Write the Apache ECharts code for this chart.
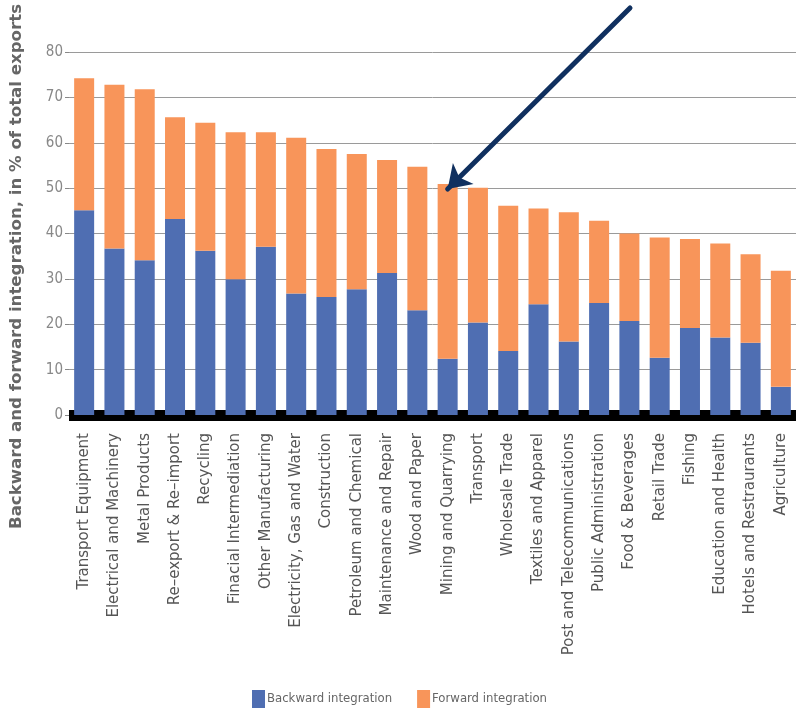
<!DOCTYPE html>
<html>
<head>
<meta charset="utf-8">
<script src="https://cdn.jsdelivr.net/npm/echarts@6/dist/echarts.min.js"></script>
<style>
  html, body { margin: 0; padding: 0; background: #ffffff; }
  #chart { width: 799px; height: 717px; }
</style>
</head>
<body>
<div id="chart"></div>
<script>
// Sectors, ordered by total integration
const sectors = [
  'Transport Equipment', 'Electrical and Machinery', 'Metal Products', 'Re\u2013export & Re\u2013import',
  'Recycling', 'Finacial Intermediation', 'Other Manufacturing', 'Electricity, Gas and Water',
  'Construction', 'Petroleum and Chemical', 'Maintenance and Repair', 'Wood and Paper',
  'Mining and Quarrying', 'Transport', 'Wholesale Trade', 'Textiles and Apparel',
  'Post and Telecommunications', 'Public Administration', 'Food & Beverages', 'Retail Trade',
  'Fishing', 'Education and Health', 'Hotels and Restraurants', 'Agriculture'
];

// Backward integration, % of total exports
const backward = [
  45.1, 36.7, 34.1, 43.2, 36.2, 29.9, 37.1, 26.8, 26.0, 27.7, 31.3, 23.1,
  12.4, 20.4, 14.1, 24.4, 16.2, 24.7, 20.7, 12.6, 19.2, 17.1, 15.9, 6.2
];

// Forward integration, % of total exports
const forward = [
  29.1, 36.1, 37.7, 22.4, 28.2, 32.4, 25.2, 34.3, 32.6, 29.8, 24.9, 31.6,
  38.5, 29.7, 32.0, 21.1, 28.5, 18.1, 19.3, 26.5, 19.6, 20.7, 19.5, 25.6
];

// Value axis ticks
const yTicks = { min: 0, max: 80, interval: 10 };

const narrowFont = '"DejaVu Sans Condensed"';
const blue = '#4f6eb2';
const orange = '#f8955a';

const chart = echarts.init(document.getElementById('chart'), null, { renderer: 'canvas' });

chart.setOption({
  animation: false,
  backgroundColor: '#ffffff',
  grid: { left: 66, right: 3, top: 52, bottom: 302 },
  legend: {
    left: 247,
    top: 685,
    itemWidth: 13,
    itemHeight: 18,
    itemGap: 25,
    icon: 'rect',
    textStyle: { fontFamily: narrowFont, fontSize: 13, color: '#666666', padding: [0, 0, 0, -3] },
    data: ['Backward integration', 'Forward integration']
  },
  xAxis: {
    type: 'category',
    data: sectors,
    axisLine: { show: true, lineStyle: { color: '#000000', width: 11, cap: 'butt' } },
    axisTick: { show: false },
    axisLabel: {
      interval: 0,
      rotate: 90,
      margin: 18,
      fontFamily: '"DejaVu Sans", sans-serif',
      fontSize: 15,
      color: '#555555'
    }
  },
  yAxis: {
    type: 'value',
    min: yTicks.min,
    max: yTicks.max,
    interval: yTicks.interval,
    name: 'Backward and forward integration, in % of total exports',
    nameLocation: 'middle',
    nameGap: 44,
    nameTextStyle: {
      fontFamily: '"DejaVu Sans", sans-serif',
      fontWeight: 'bold',
      fontSize: 16.6,
      color: '#666666',
      padding: [0, 66, 0, 0]
    },
    axisLine: { show: false },
    axisTick: { show: true, length: 4, lineStyle: { color: '#888888' } },
    axisLabel: { margin: 6, fontFamily: narrowFont, fontSize: 15, color: '#888888' },
    splitLine: { lineStyle: { color: '#9a9a9a', width: 1 } }
  },
  series: [
    {
      name: 'Backward integration',
      type: 'bar',
      stack: 'total',
      barWidth: 20,
      itemStyle: { color: blue },
      data: backward
    },
    {
      name: 'Forward integration',
      type: 'bar',
      stack: 'total',
      barWidth: 20,
      itemStyle: { color: orange },
      data: forward,
      markLine: {
        silent: true,
        animation: false,
        symbol: ['none', 'arrow'],
        symbolSize: [22, 22],
        label: { show: false },
        lineStyle: { color: '#10305f', width: 5, type: 'solid', cap: 'round' },
        data: [
          [
            { x: 630, y: 8 },
            { coord: ['Mining and Quarrying', 49.8] }
          ]
        ]
      }
    }
  ]
});
</script>
</body>
</html>
